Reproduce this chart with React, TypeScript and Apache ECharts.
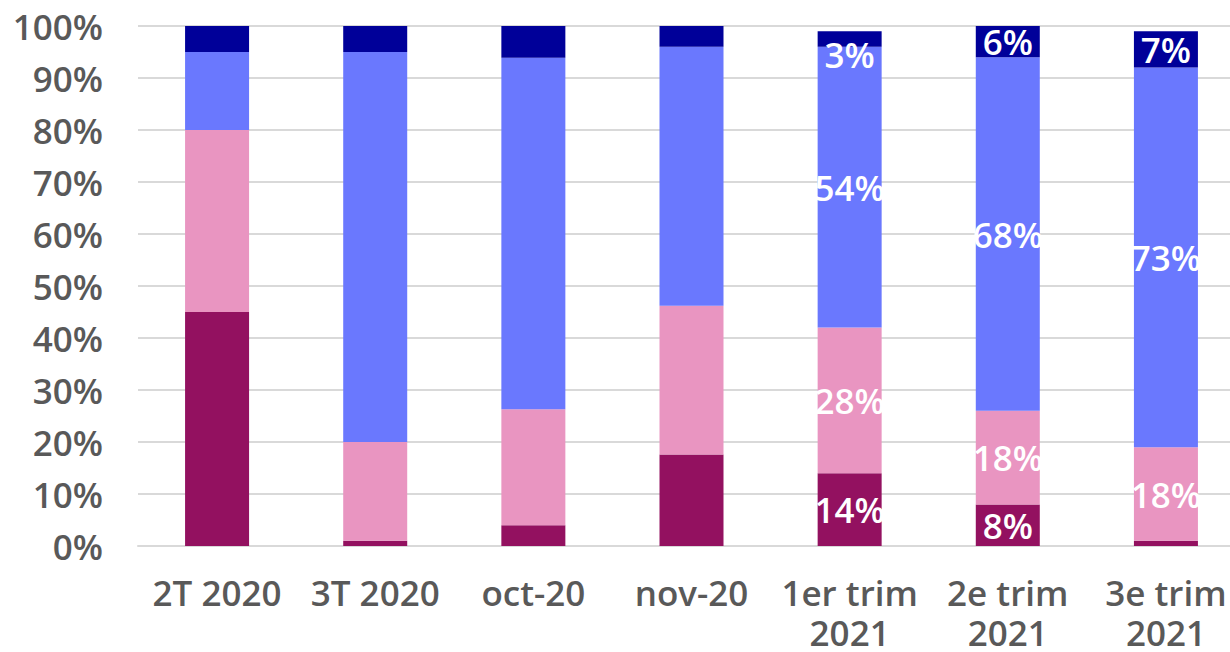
import React, { useEffect, useRef } from "react";
import * as echarts from "echarts";

const categories = ["2T 2020", "3T 2020", "oct-20", "nov-20", "1er trim\n2021", "2e trim\n2021", "3e trim\n2021"];
const seriesNames = ["S1", "S2", "S3", "S4"];
const darkValues = [45, 1, 4, 17.6, 14, 8, 1];
const pinkValues = [35, 19, 22.3, 28.6, 28, 18, 18];
const blueValues = [15, 75, 67.6, 49.8, 54, 68, 73];
const navyValues = [5, 5, 6.1, 4, 3, 6, 7];
const yTicks = [0, 10, 20, 30, 40, 50, 60, 70, 80, 90, 100];
const labelledFrom = 4;

const colors = ["#931160", "#E995C1", "#6A78FE", "#000099"];
const FONT = "Open Sans";

export default function App() {
  const ref = useRef<HTMLDivElement>(null);
  useEffect(() => {
    if (!ref.current) return;
    const chart = echarts.init(ref.current, undefined, { renderer: "svg" });
    const all = [darkValues, pinkValues, blueValues, navyValues];
    const series = all.map((vals, si) => ({
      name: seriesNames[si],
      type: "bar",
      stack: "total",
      barWidth: 64,
      itemStyle: { color: colors[si] },
      data: vals.map((v, i) => {
        const show = i >= labelledFrom && v >= 2;
        const item: any = { value: v };
        item.label = {
          show,
          position: "inside",
          color: "#ffffff",
          fontFamily: FONT,
          fontWeight: 600,
          fontSize: 35,
          formatter: (p: any) => Math.round(p.value) + "%",
          offset: si === 3 && i === 4 ? [0, 15] : [0, 0],
        };
        return item;
      }),
    }));
    chart.setOption({
      animation: false,
      grid: { left: 138, right: 0, top: 26, bottom: 96, containLabel: false },
      xAxis: {
        type: "category",
        data: categories,
        axisLine: { show: true, lineStyle: { color: "#D9D9D9", width: 2 } },
        axisTick: { show: false },
        axisLabel: {
          color: "#595959",
          fontFamily: FONT,
          fontWeight: 600,
          fontSize: 35,
          lineHeight: 40,
          margin: 26,
          interval: 0,
        },
      },
      yAxis: {
        type: "value",
        min: yTicks[0],
        max: yTicks[yTicks.length - 1],
        interval: yTicks[1] - yTicks[0],
        axisLine: { show: false },
        axisTick: { show: false },
        splitLine: { lineStyle: { color: "#D9D9D9", width: 2 } },
        axisLabel: {
          color: "#595959",
          fontFamily: FONT,
          fontWeight: 600,
          fontSize: 35,
          margin: 35,
          formatter: "{value}%",
        },
      },
      series,
    });
    return () => chart.dispose();
  }, []);
  return (
    <div style={{ position: "absolute", left: 0, top: 0, width: 1230, height: 652, overflow: "hidden" }}>
      <div ref={ref} style={{ width: 1245, height: 652 }} />
    </div>
  );
}
